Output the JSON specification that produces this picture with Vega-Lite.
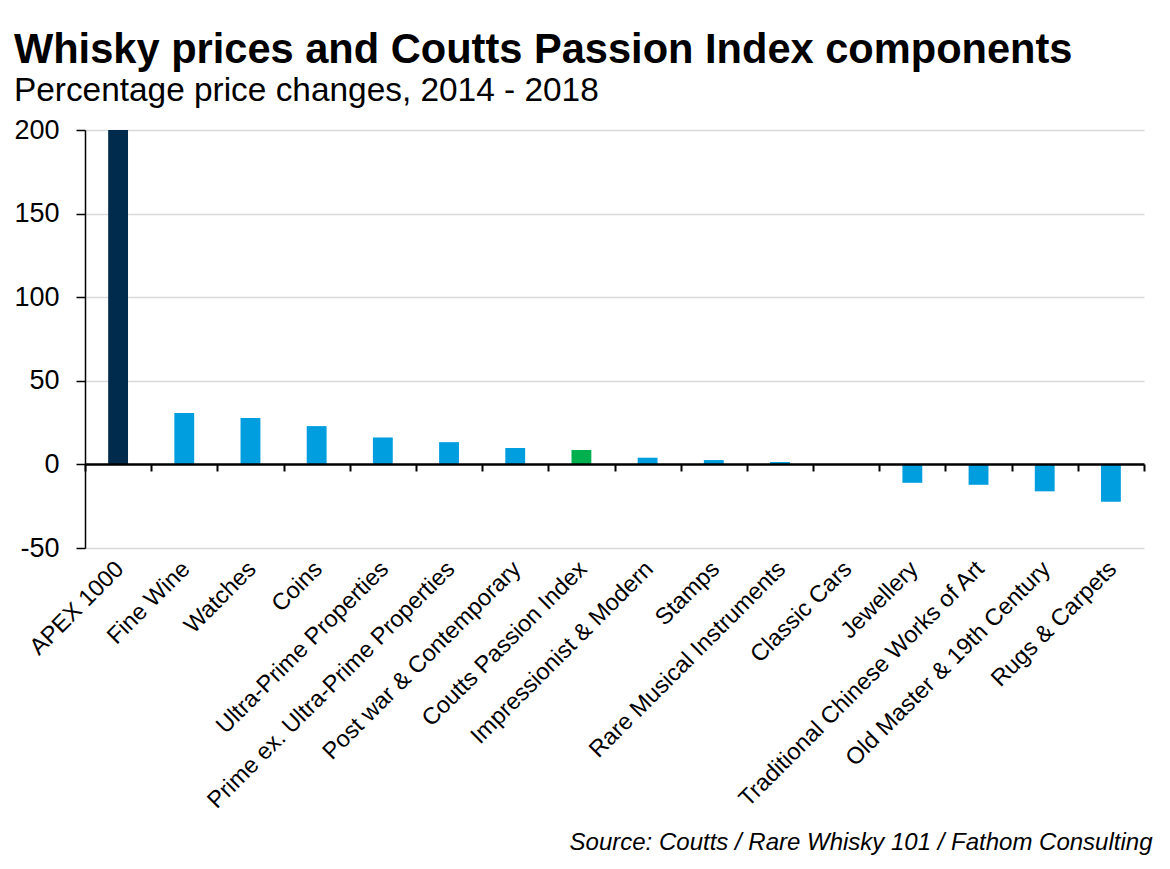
{
  "$schema": "https://vega.github.io/schema/vega-lite/v6.json",
  "width": 1059,
  "height": 418,
  "padding": {"left": 13, "top": 30, "right": 20, "bottom": 10},
  "background": "white",
  "title": {
    "text": "Whisky prices and Coutts Passion Index components",
    "subtitle": "Percentage price changes, 2014 - 2018",
    "anchor": "start",
    "frame": "bounds",
    "font": "Liberation Sans",
    "fontSize": 41.6,
    "fontWeight": "bold",
    "color": "#000000",
    "subtitleFont": "Liberation Sans",
    "subtitleFontSize": 33.4,
    "subtitleColor": "#000000",
    "subtitlePadding": 3,
    "offset": 9
  },
  "data": {
    "values": [
      {"item": "APEX 1000", "change": 200, "kind": "Whisky"},
      {"item": "Fine Wine", "change": 30.7, "kind": "Component"},
      {"item": "Watches", "change": 27.7, "kind": "Component"},
      {"item": "Coins", "change": 22.9, "kind": "Component"},
      {"item": "Ultra-Prime Properties", "change": 16.1, "kind": "Component"},
      {"item": "Prime ex. Ultra-Prime Properties", "change": 13.3, "kind": "Component"},
      {"item": "Post war & Contemporary", "change": 9.8, "kind": "Component"},
      {"item": "Coutts Passion Index", "change": 8.6, "kind": "Index"},
      {"item": "Impressionist & Modern", "change": 4.0, "kind": "Component"},
      {"item": "Stamps", "change": 2.6, "kind": "Component"},
      {"item": "Rare Musical Instruments", "change": 1.4, "kind": "Component"},
      {"item": "Classic Cars", "change": 0, "kind": "Component"},
      {"item": "Jewellery", "change": -11.0, "kind": "Component"},
      {"item": "Traditional Chinese Works of Art", "change": -12.2, "kind": "Component"},
      {"item": "Old Master & 19th Century", "change": -16.1, "kind": "Component"},
      {"item": "Rugs & Carpets", "change": -22.3, "kind": "Component"}
    ]
  },
  "layer": [
    {
      "mark": {"type": "bar", "clip": true},
      "encoding": {
        "x": {
          "field": "item",
          "type": "nominal",
          "sort": null,
          "scale": {"paddingInner": 0.7, "paddingOuter": 0.35},
          "axis": {
            "orient": "bottom",
            "labelAngle": -45,
            "labelAlign": "right",
            "labelBaseline": "middle",
            "labelFontSize": 23.5,
            "labelPadding": 17,
            "labelOffset": 2,
            "labelLimit": 0,
            "ticks": false,
            "domain": false,
            "grid": false,
            "title": "Source: Coutts / Rare Whisky 101 / Fathom Consulting",
            "titleFontStyle": "italic",
            "titleFontWeight": "normal",
            "titleFontSize": 24,
            "titleAlign": "right",
            "titleBaseline": "alphabetic",
            "titleX": 1067,
            "titleY": 301
          }
        },
        "y": {
          "field": "change",
          "type": "quantitative",
          "scale": {"domain": [-50, 200], "nice": false},
          "axis": {
            "values": [-50, 0, 50, 100, 150, 200],
            "labelExpr": "toString(datum.value)",
            "title": null,
            "labelFontSize": 27,
            "labelPadding": 17,
            "tickSize": 9,
            "tickColor": "#000000",
            "tickWidth": 1.5,
            "domainColor": "#000000",
            "domainWidth": 1.5,
            "gridColor": "#d9d9d9",
            "gridWidth": 1.5
          }
        },
        "color": {
          "field": "kind",
          "type": "nominal",
          "scale": {
            "domain": ["Whisky", "Component", "Index"],
            "range": ["#002b4d", "#009ddf", "#00b04f"]
          },
          "legend": null
        }
      }
    },
    {
      "mark": {"type": "tick", "opacity": 0},
      "encoding": {
        "x": {
          "field": "item",
          "type": "nominal",
          "sort": null,
          "scale": {"paddingInner": 0, "paddingOuter": 0},
          "axis": {
            "orient": "bottom",
            "offset": -84,
            "labels": false,
            "title": null,
            "grid": false,
            "domain": true,
            "domainColor": "#000000",
            "domainWidth": 2.5,
            "ticks": true,
            "tickBand": "extent",
            "tickColor": "#000000",
            "tickWidth": 2,
            "tickSize": 7,
            "zindex": 1
          }
        },
        "y": {"datum": 0, "type": "quantitative"}
      }
    }
  ],
  "resolve": {"axis": {"x": "independent"}, "scale": {"x": "independent"}},
  "config": {
    "font": "Liberation Sans",
    "view": {"stroke": null},
    "axis": {
      "labelFont": "Liberation Sans",
      "labelColor": "#000000",
      "titleFont": "Liberation Sans",
      "titleColor": "#000000"
    }
  }
}
